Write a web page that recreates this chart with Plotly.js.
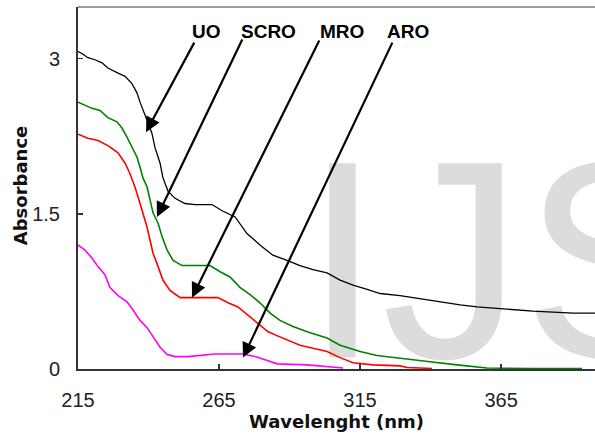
<!DOCTYPE html>
<html>
<head>
<meta charset="utf-8">
<script src="https://cdn.plot.ly/plotly-3.0.1.min.js"></script>
<style>
  html, body { margin: 0; padding: 0; background: #fff; }
  #chart { width: 595px; height: 438px; }
</style>
</head>
<body>
<div id="chart"></div>
<script>
// ---- data ----
const wlUO = [215, 216.4, 218.5, 221, 223.5, 225.6, 229.2, 231.7, 234.1, 235.9, 237, 238.8, 239.8, 241.2, 242.3, 244.1, 245.1, 246.9, 249.4, 252.9, 256.5, 262.5, 266.1, 270.7, 274.9, 279.5, 284.1, 289.1, 293.7, 298.3, 303.3, 307.9, 312.5, 317.5, 322.1, 329.2, 336.3, 344.4, 350.5, 356.5, 365.7, 376.3, 390.5, 398.3];
const absUO = [3.07, 3.05, 3.01, 2.99, 2.96, 2.91, 2.86, 2.83, 2.76, 2.67, 2.58, 2.46, 2.38, 2.28, 2.14, 1.99, 1.85, 1.72, 1.65, 1.60, 1.59, 1.59, 1.53, 1.47, 1.31, 1.20, 1.10, 1.05, 1.00, 0.96, 0.93, 0.86, 0.81, 0.77, 0.73, 0.71, 0.68, 0.64, 0.62, 0.60, 0.58, 0.56, 0.54, 0.54];

const wlSCRO = [215, 217.5, 220, 222.8, 225.6, 228.8, 230.6, 232.4, 234.1, 235.9, 237, 238, 239.5, 240.5, 241.6, 243.4, 244.8, 246.6, 248.7, 251.9, 257.6, 261.8, 265.4, 268.9, 272.4, 276, 279.5, 283.1, 286.6, 291.2, 297.3, 303.3, 307.9, 315, 321, 326.7, 332.7, 339.8, 349.4, 360, 375.3, 393.7];
const absSCRO = [2.58, 2.55, 2.52, 2.50, 2.43, 2.39, 2.33, 2.24, 2.14, 2.05, 1.95, 1.85, 1.76, 1.63, 1.51, 1.41, 1.28, 1.15, 1.05, 1.00, 1.00, 1.00, 0.94, 0.89, 0.79, 0.72, 0.64, 0.54, 0.47, 0.41, 0.35, 0.30, 0.23, 0.17, 0.13, 0.11, 0.09, 0.07, 0.04, 0.01, 0.005, 0.005];

const wlMRO = [215, 218.5, 222.1, 225.6, 229.2, 231.7, 233.4, 235.2, 237, 238, 239.5, 240.5, 241.6, 243.4, 245.1, 247.6, 251.2, 264.6, 268.2, 271.7, 275.3, 278.8, 282.4, 284.9, 289.1, 293.7, 298.3, 303.3, 307.9, 312.5, 319.6, 329.2, 331.7, 340.5];
const absMRO = [2.27, 2.23, 2.21, 2.16, 2.09, 1.99, 1.89, 1.76, 1.60, 1.51, 1.37, 1.25, 1.12, 0.99, 0.86, 0.76, 0.69, 0.69, 0.64, 0.60, 0.52, 0.44, 0.36, 0.33, 0.28, 0.23, 0.20, 0.17, 0.11, 0.06, 0.04, 0.03, 0.015, 0.005];

const wlARO = [215, 217.5, 220, 222.1, 224.6, 226.3, 229.2, 232.4, 234.5, 237, 239.5, 241.6, 244.1, 246.6, 249.4, 254, 259, 263.6, 273.2, 277.8, 281.3, 285.6, 296.2, 309];
const absARO = [1.20, 1.15, 1.07, 0.99, 0.91, 0.79, 0.71, 0.65, 0.57, 0.47, 0.40, 0.31, 0.21, 0.14, 0.12, 0.12, 0.135, 0.145, 0.145, 0.12, 0.09, 0.05, 0.04, 0.01];

const seriesNames = ['UO', 'SCRO', 'MRO', 'ARO'];
const xTickVals = [215, 265, 315, 365];
const yTickVals = [0, 1.5, 3];
const yTickText = ['0', '1.5', '3'];

// label positions (text) and arrows (tail -> tip), in data units
const labelX = [260.4, 282.7, 308.6, 332.0];
const labelY = 3.26;
const arrowTailX = [256.5, 273.5, 300.8, 326.7];
const arrowTailY = [3.17, 3.20, 3.19, 3.17];
const arrowTipX = [239.1, 243.0, 255.4, 273.5];
const arrowTipY = [2.29, 1.47, 0.69, 0.11];

// ---- styles ----
const colors = ['#000000', '#008000', '#ff0000', '#ff00ff'];
const widths = [1.3, 1.6, 1.6, 1.6];
const FONT = 'Liberation Sans, Arial, sans-serif';
const TITLE_FONT = 'DejaVu Sans, Verdana, sans-serif';

const xs = [wlUO, wlSCRO, wlMRO, wlARO];
const ys = [absUO, absSCRO, absMRO, absARO];

const traces = seriesNames.map((n, i) => ({
  type: 'scatter', mode: 'lines', name: n,
  x: xs[i], y: ys[i],
  line: { color: colors[i], width: widths[i] },
  hoverinfo: 'skip'
}));

const annotations = [];
seriesNames.forEach((n, i) => {
  annotations.push({
    xref: 'x', yref: 'y', x: arrowTipX[i], y: arrowTipY[i],
    axref: 'x', ayref: 'y', ax: arrowTailX[i], ay: arrowTailY[i],
    text: '', showarrow: true, arrowhead: 2, arrowsize: 1.35,
    arrowwidth: 2.2, arrowcolor: '#000'
  });
  annotations.push({
    xref: 'x', yref: 'y', x: labelX[i], y: labelY,
    text: '<b>' + n + '</b>', showarrow: false,
    font: { family: FONT, size: 19, color: '#000' },
    xanchor: 'center', yanchor: 'middle'
  });
});
// y-axis title (placed as an annotation for exact positioning)
annotations.push({
  xref: 'paper', yref: 'paper', x: -0.112, y: 0.508,
  text: '<b>Absorbance</b>', showarrow: false, textangle: -90,
  font: { family: TITLE_FONT, size: 18, color: '#111' },
  xanchor: 'center', yanchor: 'middle'
});

const layout = {
  width: 595, height: 438,
  margin: { l: 78, r: 0, t: 7, b: 69 },
  paper_bgcolor: '#fff', plot_bgcolor: '#fff',
  showlegend: false,
  font: { family: FONT, size: 20, color: '#222' },
  xaxis: {
    range: [215, 398.3], tickvals: xTickVals,
    ticks: 'inside', ticklen: 5, tickcolor: '#333', tickwidth: 1.5,
    showline: true, linecolor: '#333', linewidth: 2,
    showgrid: false, zeroline: false,
    ticklabelstandoff: 12,
    tickfont: { family: FONT, size: 20, color: '#222' },
    title: { text: '<b>Wavelenght (nm)</b>', font: { family: TITLE_FONT, size: 18, color: '#111' }, standoff: 2 }
  },
  yaxis: {
    range: [0, 3.5], tickvals: yTickVals, ticktext: yTickText,
    ticks: 'inside', ticklen: 5, tickcolor: '#333', tickwidth: 1.5,
    showline: true, linecolor: '#333', linewidth: 2,
    showgrid: false, zeroline: false,
    ticklabelstandoff: 12,
    tickfont: { family: FONT, size: 20, color: '#222' }
  },
  shapes: [
    { type: 'line', xref: 'paper', yref: 'paper', x0: 0, x1: 1, y0: 1, y1: 1,
      line: { color: '#9a9a9a', width: 2 } },
    { type: 'rect', xref: 'paper', yref: 'paper', x0: 0.43, x1: 1.4, y0: 0.261, y1: 0.491,
      layer: 'below', line: { width: 0 }, fillcolor: 'rgba(0,0,0,0)',
      label: { text: 'IJSER', textposition: 'middle left', padding: 0,
               font: { family: FONT, size: 282, color: '#dcdcdc' } } }
  ],
  annotations: annotations
};

Plotly.newPlot('chart', traces, layout, { displayModeBar: false, staticPlot: true });
</script>
</body>
</html>
